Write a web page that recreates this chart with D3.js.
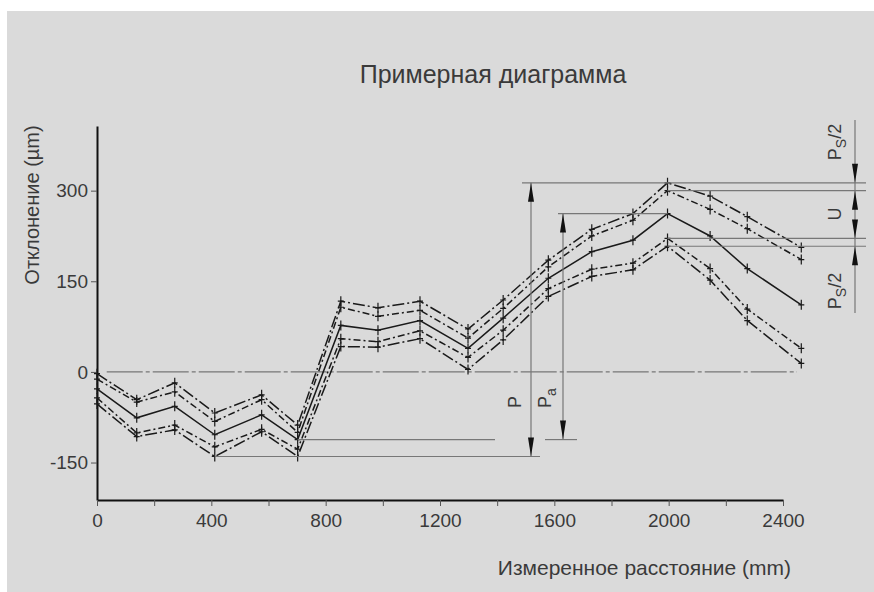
<!DOCTYPE html>
<html>
<head>
<meta charset="UTF-8">
<title>Примерная диаграмма</title>
<style>
    body { margin: 0; background: #fff; }
    text { font-family: "Liberation Sans", Arial, Helvetica, sans-serif; fill: #3a3a3a; }
    .ser { fill: none; stroke: #1a1a1a; stroke-width: 1.5; }
    .mark { fill: none; stroke: #1a1a1a; stroke-width: 1.2; }
    .ann { fill: none; stroke: #777; stroke-width: 1.2; }
    .arrow { fill: #111; stroke: none; }
</style>
</head>
<body>
<svg id="chart" width="874" height="592"></svg>
<script src="https://cdn.jsdelivr.net/npm/d3@7/dist/d3.min.js"></script>
<script>
// measured positions (mm) and deviations (µm)
var positions = [0, 139, 272, 412, 576, 702, 853, 983, 1130, 1298, 1421, 1579, 1731, 1875, 1996, 2145, 2275, 2464];
var upper2s   = [-3, -46, -18, -68, -38, -88, 117, 106, 117, 71, 119, 185, 236, 262, 313, 291, 257, 206];
var upperMean = [-12, -50, -33, -82, -46, -100, 107, 92, 102, 56, 105, 174, 225, 251, 300, 269, 237, 186];
var meanDev   = [-28, -76, -57, -104, -71, -112, 77, 69, 85, 39, 89, 155, 199, 218, 262, 225, 171, 111];
var lowerMean = [-43, -101, -88, -124, -95, -128, 55, 50, 68, 24, 69, 138, 170, 180, 221, 171, 104, 39];
var lower2s   = [-53, -107, -96, -140, -99, -140, 42, 41, 55, 4, 53, 125, 158, 169, 208, 152, 85, 14];

var yTicks = [-150, 0, 150, 300];
var xTicks = [0, 200, 400, 600, 800, 1000, 1200, 1400, 1600, 1800, 2000, 2200, 2400];
var xLabels = [0, 400, 800, 1200, 1600, 2000, 2400];

var series = [
    {vals: upper2s,   dash: "12,3,2,3"},
    {vals: upperMean, dash: "7,3,2,3"},
    {vals: meanDev,   dash: null},
    {vals: lowerMean, dash: "7,3,2,3"},
    {vals: lower2s,   dash: "12,3,2,3"}
];

var svg = d3.select("#chart");

svg.append("rect").attr("x", 7).attr("y", 11)
    .attr("width", 867).attr("height", 581).attr("fill", "#dadada");

var x = d3.scaleLinear().domain([0, 2400]).range([97, 783]);
var y = d3.scaleLinear().domain([-212, 407]).range([500, 126]);

// axes
var yAxis = svg.append("g").attr("transform", "translate(97,0)")
    .call(d3.axisLeft(y).tickValues(yTicks).tickSize(6).tickSizeOuter(0).tickPadding(3)
        .tickFormat(d => String(d)));
var xAxis = svg.append("g").attr("transform", "translate(0,500)")
    .call(d3.axisBottom(x).tickValues(xTicks).tickSize(6).tickSizeOuter(0).tickPadding(8)
        .tickFormat(d => xLabels.indexOf(d) >= 0 ? String(d) : ""));

[yAxis, xAxis].forEach(function(a) {
    a.select(".domain").attr("stroke", "#111").attr("stroke-width", 2);
    a.selectAll(".tick line").attr("stroke", "#555");
    a.selectAll(".tick text").attr("font-size", 19).attr("fill", "#444")
        .attr("font-family", "'Liberation Sans', Arial, sans-serif");
});

// zero line
svg.append("line").attr("class", "ann")
    .attr("x1", x(34)).attr("x2", x(2449)).attr("y1", y(0)).attr("y2", y(0))
    .attr("stroke", "#444").attr("stroke-dasharray", "36,3,4,3");

// titles
svg.append("text").attr("x", 493).attr("y", 83).attr("text-anchor", "middle")
    .attr("font-size", 25).attr("fill", "#111").text("Примерная диаграмма");
svg.append("text").attr("x", 791).attr("y", 575).attr("text-anchor", "end")
    .attr("font-size", 21).attr("fill", "#111").text("Измеренное расстояние (mm)");
svg.append("text").attr("transform", "translate(39,205) rotate(-90)").attr("text-anchor", "middle")
    .attr("font-size", 20).attr("fill", "#222").text("Отклонение (µm)");

// series
var line = d3.line().x((d, i) => x(positions[i])).y(d => y(d));
var sg = svg.append("g");
series.forEach(function(s) {
    sg.append("path").attr("class", "ser").attr("d", line(s.vals))
        .attr("stroke-dasharray", s.dash);
    sg.selectAll(null).data(s.vals).enter().append("path").attr("class", "mark")
        .attr("transform", (d, i) => "translate(" + x(positions[i]) + "," + y(d) + ")")
        .attr("d", "M-3,0H3M0,-5V5");
});

// annotation: P, Pa, U, Ps/2
var maxA = d3.max(upper2s), minE = d3.min(lower2s);
var maxC = d3.max(meanDev), minC = d3.min(meanDev);
var maxB = d3.max(upperMean), maxD = d3.max(lowerMean), maxE = d3.max(lower2s);
var peakX = positions[upper2s.indexOf(maxA)];
var lowX = positions[lower2s.indexOf(minE)];
var lowCX = positions[meanDev.indexOf(minC)];

var pX = 531, paX = 563, rX = 855, rEnd = 866;
var ag = svg.append("g");
function hline(x1, x2, yy) {
    ag.append("line").attr("class", "ann").attr("x1", x1).attr("x2", x2).attr("y1", yy).attr("y2", yy);
}
function vline(xx, y1, y2) {
    ag.append("line").attr("class", "ann").attr("x1", xx).attr("x2", xx).attr("y1", y1).attr("y2", y2);
}
function arrow(xx, tip, dir) {
    // dir -1 = pointing up, 1 = pointing down
    var base = tip - dir * 19;
    ag.append("path").attr("class", "arrow")
        .attr("d", "M" + xx + "," + tip + "L" + (xx - 3) + "," + base + "L" + (xx + 3) + "," + base + "Z");
}

hline(522, rEnd, y(maxA));
hline(x(peakX), rEnd, y(maxB));
hline(x(peakX), rEnd, y(maxD));
hline(x(peakX), rEnd, y(maxE));
hline(x(lowX), 540, y(minE));
hline(558, x(peakX), y(maxC));
hline(x(lowCX), 495, y(minC));
hline(545, 577, y(minC));

vline(pX, y(maxA), y(minE));
arrow(pX, y(maxA), -1);
arrow(pX, y(minE), 1);
vline(paX, y(maxC), y(minC));
arrow(paX, y(maxC), -1);
arrow(paX, y(minC), 1);

vline(rX, 120, 313);
arrow(rX, y(maxA), 1);
arrow(rX, y(maxB), -1);
arrow(rX, y(maxD), 1);
arrow(rX, y(maxE), -1);

function rotLabel(xx, yy, main, sub, tail) {
    var t = ag.append("text").attr("transform", "translate(" + xx + "," + yy + ") rotate(-90)")
        .attr("text-anchor", "middle").attr("font-size", 18).attr("fill", "#444");
    t.append("tspan").text(main);
    if (sub) t.append("tspan").attr("font-size", 14).attr("dy", 5).text(sub);
    if (tail) t.append("tspan").attr("dy", -5).text(tail);
}
rotLabel(521, 402, "P");
rotLabel(551, 398, "P", "a");
rotLabel(841, 142, "P", "S", "/2");
rotLabel(841, 214, "U");
rotLabel(841, 291, "P", "S", "/2");
</script>
</body>
</html>
